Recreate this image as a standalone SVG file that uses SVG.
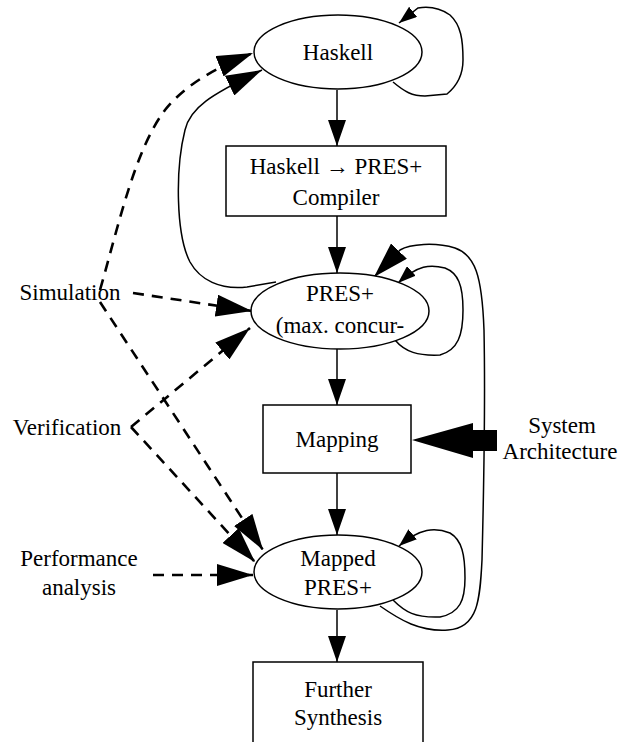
<svg xmlns="http://www.w3.org/2000/svg" width="619" height="742" viewBox="0 0 619 742">
<style>
text{font-family:'Liberation Serif','DejaVu Serif',serif;font-size:23px;fill:#000;text-anchor:middle}
.n{fill:#fff;stroke:#000;stroke-width:1.5}
.e{fill:none;stroke:#000;stroke-width:1.5}
.d{fill:none;stroke:#000;stroke-width:2.6;stroke-dasharray:11 8}
</style>
<defs>
<marker id="big" markerUnits="userSpaceOnUse" markerWidth="36" markerHeight="22" refX="36" refY="11" orient="auto"><path d="M0,0 L36,11 L0,22 z" fill="#000"/></marker>
<marker id="med" markerUnits="userSpaceOnUse" markerWidth="26" markerHeight="18" refX="26" refY="9" orient="auto"><path d="M0,0 L26,9 L0,18 z" fill="#000"/></marker>
<marker id="sm" markerUnits="userSpaceOnUse" markerWidth="18" markerHeight="13" refX="18" refY="6.5" orient="auto"><path d="M0,0 L18,6.5 L0,13 z" fill="#000"/></marker>
</defs>
<g id="connectors">
<path class="e" d="M337,90 L337,146" marker-end="url(#med)"/>
<path class="e" d="M337,216 L337,273" marker-end="url(#med)"/>
<path class="e" d="M337,349 L337,405" marker-end="url(#med)"/>
<path class="e" d="M337,473 L337,535" marker-end="url(#med)"/>
<path class="e" d="M337,610 L337,662" marker-end="url(#med)"/>
<path class="e" d="M393,82 C405,92 412,96 425,96 L447,94 C458,85 463,75 463,60 C463,40 461,25 450,15 C440,8 430,6 418,8 L399,23" marker-end="url(#sm)"/>
<path class="e" d="M276,282 L247,287 C220,290 200,280 190,262 C176,235 175,170 185,130 C190,108 210,95 262,70" marker-end="url(#big)"/>
<path class="e" d="M395,340 C405,352 418,356 440,355 C458,350 463,335 463,310 C463,285 458,273 445,268 C430,264 418,265 398,283" marker-end="url(#sm)"/>
<path class="e" d="M380,606 C400,620 420,632 448,630 C478,628 480,600 482,560 C484,480 485,380 484,330 C482,275 475,255 455,248 C435,242 410,244 400,250 L374,277" marker-end="url(#big)"/>
<path class="e" d="M393,600 C405,612 415,618 440,617 C460,613 465,600 465,578 C465,555 462,540 450,533 C435,527 420,528 399,546" marker-end="url(#sm)"/>
<path class="d" d="M100,290 C120,220 135,150 165,110 C185,85 215,68 253,53" marker-end="url(#big)"/>
<path class="d" d="M133,293 L252,311" marker-end="url(#big)"/>
<path class="d" d="M100,302 L263,550" marker-end="url(#big)"/>
<path class="d" d="M131,427 L250,328" marker-end="url(#big)"/>
<path class="d" d="M131,427 L255,562" marker-end="url(#big)"/>
<path class="d" d="M153,575 L253,575" marker-end="url(#big)"/>
<path d="M497,430 L473,430 L473,423 L412,440 L473,458 L473,451 L497,451 z" fill="#000"/>
</g>
<g id="haskell"><ellipse class="n" cx="338" cy="52" rx="84" ry="37"/><text x="338" y="60">Haskell</text></g>
<g id="compiler"><rect class="n" x="226" y="146" width="220" height="70"/><text x="336" y="174">Haskell → PRES+</text><text x="336" y="205">Compiler</text></g>
<g id="pres"><ellipse class="n" cx="340" cy="311" rx="89" ry="38"/><text x="340" y="301">PRES+</text><text x="340" y="333">(max. concur-</text></g>
<g id="mapping"><rect class="n" x="263" y="405" width="148" height="68"/><text x="337" y="447">Mapping</text></g>
<g id="mapped"><ellipse class="n" cx="338" cy="572" rx="84" ry="37"/><text x="338" y="566">Mapped</text><text x="338" y="595">PRES+</text></g>
<g id="further"><rect class="n" x="253" y="662" width="170" height="90"/><text x="338" y="697">Further</text><text x="338" y="725">Synthesis</text></g>
<g id="simulation"><text x="70" y="300">Simulation</text></g>
<g id="verification"><text x="67" y="435">Verification</text></g>
<g id="performance"><text x="79" y="566">Performance</text><text x="79" y="595">analysis</text></g>
<g id="sysarch"><text x="562" y="433">System</text><text x="560" y="459">Architecture</text></g>
</svg>
